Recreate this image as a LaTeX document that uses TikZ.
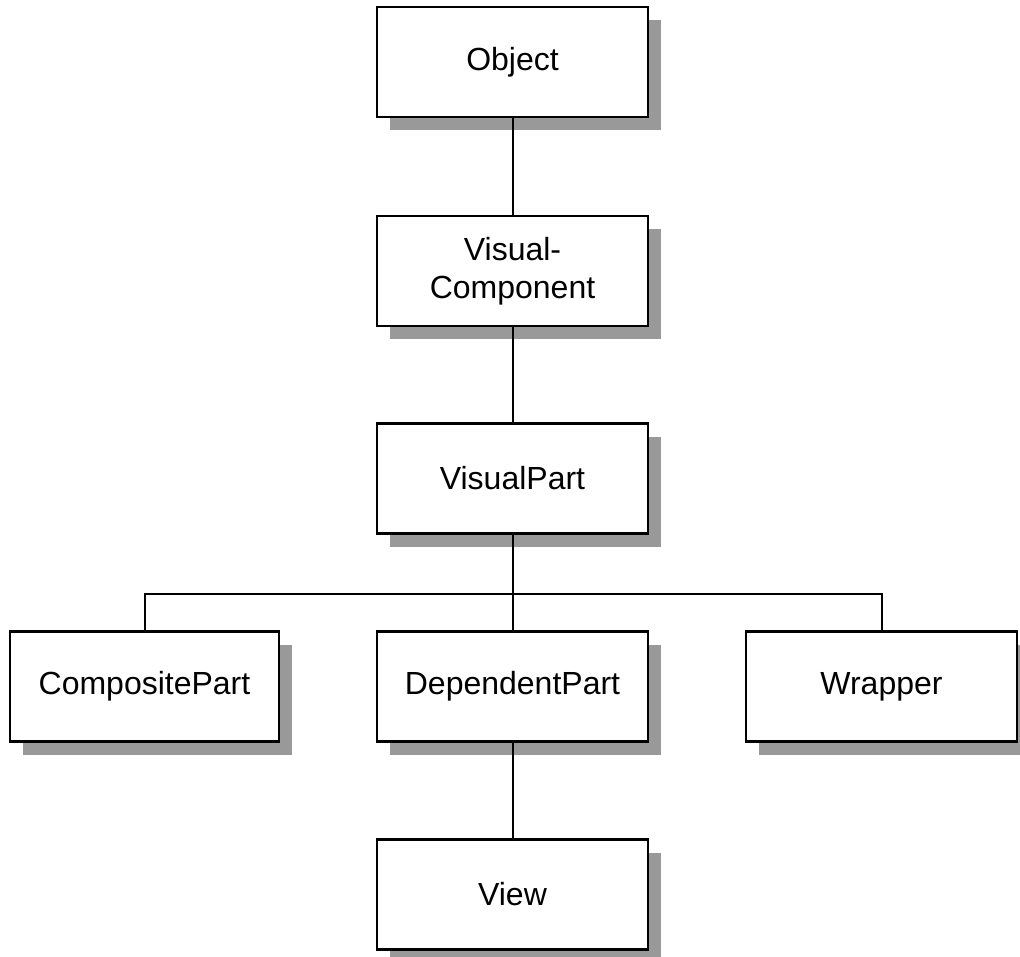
\documentclass[tikz,border=0pt]{standalone}
\usepackage{fontspec}
\setmainfont{Liberation Sans}
\usetikzlibrary{shadows}
\definecolor{shadowgray}{RGB}{153,153,153}
\tikzset{
  classbox/.style={draw=black, line width=2.5pt, fill=white, minimum width=271pt, minimum height=110pt,
    inner sep=0pt, align=center, font=\fontsize{32}{38}\selectfont,
    drop shadow={shadow xshift=13pt, shadow yshift=-13pt, fill=shadowgray, opacity=1}},
  link/.style={draw=black, line width=2pt}
}
\begin{document}
\begin{tikzpicture}[x=1pt,y=-1pt]
\useasboundingbox (0,0) rectangle (1020,956);
\begin{scope}
\clip (0,0) rectangle (1020,956);
\node[classbox] (obj) at (512.5,62) {Object};
\node[classbox] (vc) at (512.5,271) {Visual-\\Component};
\node[classbox] (vp) at (512.5,478.5) {VisualPart};
\node[classbox, minimum width=269pt] (cp) at (144.5,686.5) {CompositePart};
\node[classbox] (dp) at (512.5,686.5) {DependentPart};
\node[classbox, minimum width=271pt] (wr) at (881.5,686.5) {Wrapper};
\node[classbox] (vw) at (512.5,894.5) {View};
\end{scope}
\coordinate (j) at (512.5,594);
\draw[link] (obj.south) -- (vc.north);
\draw[link] (vc.south) -- (vp.north);
\draw[link] (vp.south) -- (dp.north);
\draw[link] (cp.north) |- (j) -| (wr.north);
\draw[link] (dp.south) -- (vw.north);
\end{tikzpicture}
\end{document}
